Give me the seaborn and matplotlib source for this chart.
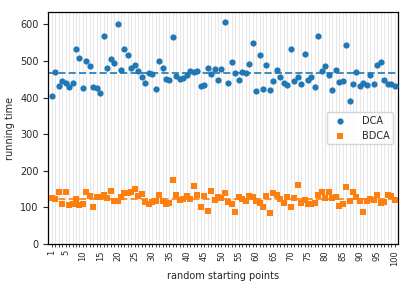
import numpy as np
import pandas as pd
import seaborn as sns
import matplotlib
matplotlib.use("Agg")
import matplotlib.pyplot as plt

# running times, one value per starting point
starts = list(range(1, 101))
dca = [405, 470, 431, 445, 440, 429, 440, 533, 507, 426,
       501, 487, 428, 425, 413, 569, 480, 506, 494, 600,
       474, 534, 516, 481, 489, 472, 457, 439, 466, 464,
       423, 500, 480, 450, 447, 565, 459, 450, 453, 463,
       473, 470, 473, 431, 435, 480, 464, 477, 449, 479,
       607, 439, 498, 467, 449, 471, 467, 493, 548, 417,
       516, 423, 490, 420, 444, 475, 457, 440, 434, 534,
       445, 457, 438, 519, 448, 455, 430, 568, 472, 486,
       463, 422, 474, 443, 446, 543, 391, 437, 471, 432,
       441, 433, 461, 438, 490, 497, 447, 438, 438, 432]
bdca = [125, 122, 141, 109, 141, 107, 110, 124, 106, 108,
        142, 132, 100, 129, 129, 133, 126, 144, 116, 118,
        128, 138, 139, 142, 151, 132, 137, 114, 109, 115,
        118, 135, 118, 110, 111, 174, 133, 119, 124, 131,
        124, 159, 135, 101, 131, 91, 144, 119, 129, 125,
        140, 114, 110, 86, 128, 123, 117, 132, 127, 117,
        111, 100, 130, 84, 138, 133, 122, 113, 128, 101,
        126, 162, 111, 119, 108, 108, 113, 133, 142, 125,
        141, 126, 129, 103, 108, 155, 116, 141, 129, 118,
        86, 118, 124, 120, 133, 111, 115, 133, 131, 121]
xtick_labels = [1] + list(range(5, 101, 5))

sns.set_style("ticks")
plt.rcParams.update({
    "font.family": ["DejaVu Sans"],
    "font.size": 7,
    "axes.edgecolor": "black",
    "axes.linewidth": 0.9,
})

fig = plt.figure(figsize=(4.11, 2.88), dpi=100)
ax = fig.add_axes([0.1175, 0.153, 0.851, 0.8045])

df_dca = pd.DataFrame({"start": starts, "time": dca})
df_bdca = pd.DataFrame({"start": starts, "time": bdca})

sns.scatterplot(data=df_dca, x="start", y="time", ax=ax, color="#1f77b4",
                marker="o", s=20, linewidth=0, label="DCA", zorder=3)
sns.scatterplot(data=df_bdca, x="start", y="time", ax=ax, color="#ff7f0e",
                marker="s", s=20, linewidth=0, label="BDCA", zorder=3)

# dashed mean lines
ax.axhline(np.mean(dca), color="#1f77b4", ls="--", lw=1.4, alpha=0.85, zorder=2)
ax.axhline(np.mean(bdca), color="#ff7f0e", ls="--", lw=1.4, alpha=0.85, zorder=2)

ax.set_xlim(0, 101)
ax.set_ylim(bottom=0)
ax.set_xticks(xtick_labels)
ax.set_xticklabels([str(v) for v in xtick_labels], rotation=90, fontsize=6)
ax.set_xticks(starts, minor=True)
ax.set_yticks(range(0, 601, 100))
ax.tick_params(axis="x", which="both", length=2.5, width=0.6, pad=2)
ax.tick_params(axis="y", length=3.5, width=0.8, labelsize=7)
ax.grid(axis="x", which="both", color="#e8e8e8", lw=0.8, zorder=0)
ax.set_axisbelow(True)
for sp in ax.spines.values():
    sp.set_visible(True)

ax.set_xlabel("random starting points", fontsize=7)
ax.set_ylabel("running time", fontsize=7)
ax.legend(loc="center right", fontsize=7, frameon=True, handletextpad=1.2)

fig.savefig("out.png", dpi=100)
